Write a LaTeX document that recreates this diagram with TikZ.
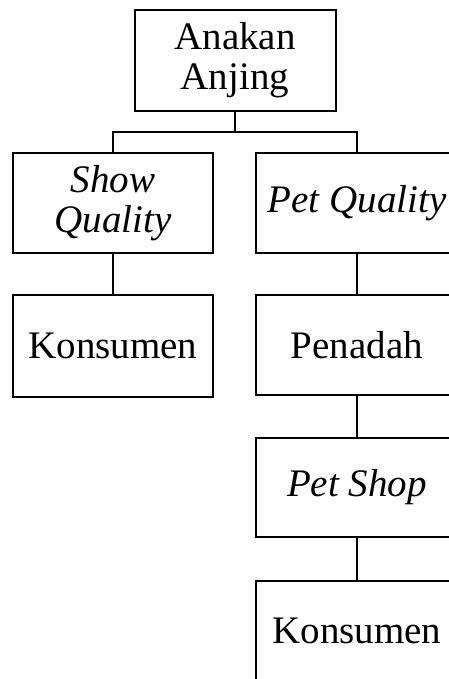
\documentclass[tikz,border=0pt]{standalone}
\usepackage{fontspec}
\setmainfont{Liberation Serif}
\begin{document}
\begin{tikzpicture}[x=1pt,y=-1pt,
  box/.style={draw,line width=2pt,inner sep=0pt,align=center,
    font=\fontsize{39}{40}\selectfont},
  link/.style={line width=2pt}]
\useasboundingbox (0,0) rectangle (448,679);
\node[box,minimum width=201pt,minimum height=101pt] (top) at (235,60.5) {Anakan\\Anjing};
\node[box,minimum width=200pt,minimum height=100pt] (show) at (113,203) {\itshape Show\\\itshape Quality};
\node[box,minimum width=202pt,minimum height=100pt] (pet) at (357,203) {\itshape Pet Quality};
\node[box,minimum width=200pt,minimum height=102pt] (kons1) at (113,346) {Konsumen};
\node[box,minimum width=202pt,minimum height=100pt] (penadah) at (357,345) {Penadah};
\node[box,minimum width=202pt,minimum height=99pt] (petshop) at (357,487.5) {\itshape Pet Shop};
\node[box,minimum width=202pt,minimum height=100pt] (kons2) at (357,631) {Konsumen};
\coordinate (j) at (235,132);
\draw[link] (top.south) -- (j);
\draw[link] (show.north) |- (j) -| (pet.north);
\draw[link] (show.south) -- (kons1.north);
\draw[link] (pet.south) -- (penadah.north);
\draw[link] (penadah.south) -- (petshop.north);
\draw[link] (petshop.south) -- (kons2.north);
\end{tikzpicture}
\end{document}
